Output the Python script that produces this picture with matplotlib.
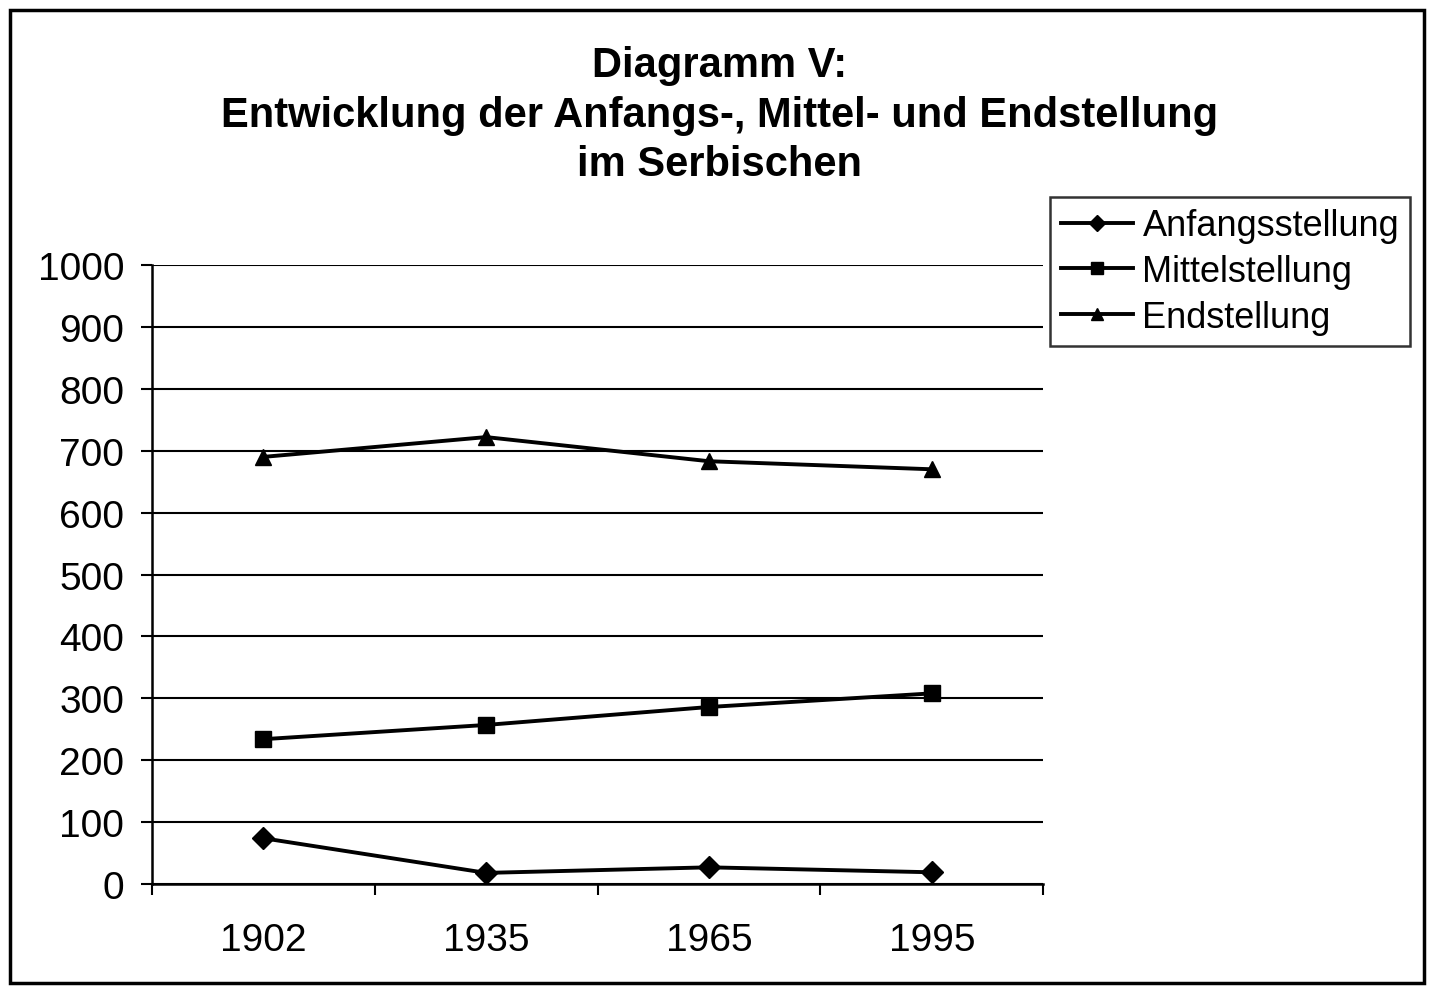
import matplotlib.pyplot as plt
from matplotlib.patches import Rectangle

# Werte
jahre = ['1902', '1935', '1965', '1995']
anfang = [74, 18, 27, 19]
mittel = [234, 257, 286, 308]
ende = [690, 722, 683, 670]

plt.rcParams['font.family'] = ['Liberation Sans', 'DejaVu Sans']

fig = plt.figure(figsize=(14.33, 9.87), dpi=100)
ax = fig.add_axes([0.106, 0.1033, 0.622, 0.6272])

x = [i + 0.5 for i in range(len(jahre))]
ax.plot(x, anfang, color='black', lw=2.8, marker='D', ms=11, label='Anfangsstellung')
ax.plot(x, mittel, color='black', lw=2.8, marker='s', ms=12, label='Mittelstellung')
ax.plot(x, ende, color='black', lw=2.8, marker='^', ms=12, label='Endstellung')

ax.set_xlim(0, 4)
ax.set_ylim(0, 1000)
ax.set_yticks(range(0, 1001, 100))
ax.yaxis.grid(True, color='black', lw=1.5)
ax.set_axisbelow(True)

# Ticks zwischen den Kategorien, Beschriftung in der Mitte
ax.set_xticks(range(0, 5))
ax.set_xticklabels([])
ax.set_xticks(x, minor=True)
ax.set_xticklabels(jahre, minor=True)
ax.tick_params(axis='x', which='major', length=8, width=1.5, direction='out')
ax.tick_params(axis='x', which='minor', length=0, pad=27, labelsize=28)
ax.tick_params(axis='y', length=8, width=1.5, direction='out', pad=12, labelsize=28)

for s in ['top', 'right']:
    ax.spines[s].set_visible(False)
for s in ['left', 'bottom']:
    ax.spines[s].set_linewidth(1.8)

fig.text(0.502, 0.953, 'Diagramm V:\nEntwicklung der Anfangs-, Mittel- und Endstellung\nim Serbischen',
         ha='center', va='top', fontsize=30, fontweight='bold', linespacing=1.3)

leg = fig.legend(loc='upper left', bbox_to_anchor=(0.733, 0.799), fontsize=26,
                 frameon=True, fancybox=False, edgecolor='black', handlelength=2.0,
                 handletextpad=0.25, borderpad=0.3, labelspacing=0.3, markerscale=0.7,
                 borderaxespad=0)
leg.get_frame().set_linewidth(1.8)

fig.patches.append(Rectangle((0.007, 0.003), 0.987, 0.986, transform=fig.transFigure,
                             fill=False, edgecolor='black', lw=2.5))

plt.savefig('out.png', dpi=100)
